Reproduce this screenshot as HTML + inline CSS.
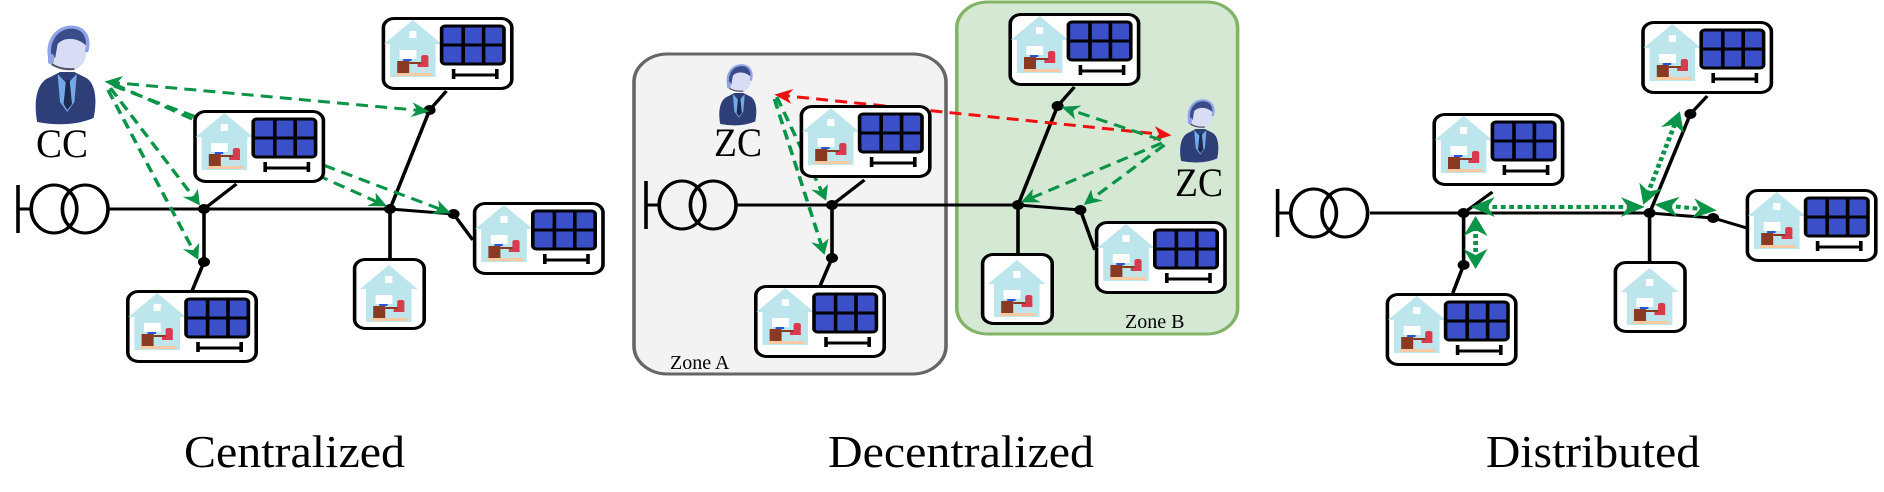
<!DOCTYPE html>
<html><head><meta charset="utf-8"><style>
html,body{margin:0;padding:0;background:#fff;}
svg{display:block;}
</style></head><body>
<svg width="1884" height="492" viewBox="0 0 1884 492" xmlns="http://www.w3.org/2000/svg">
<defs>
<marker id="ga" viewBox="0 0 10 10" refX="8" refY="5" markerWidth="5" markerHeight="5" orient="auto-start-reverse" markerUnits="strokeWidth"><path d="M0,0 L10,5 L0,10 L3,5 z" fill="#0a9447"/></marker>
<marker id="ra" viewBox="0 0 10 10" refX="8" refY="5" markerWidth="5" markerHeight="5" orient="auto-start-reverse" markerUnits="strokeWidth"><path d="M0,0 L10,5 L0,10 L3,5 z" fill="#f01010"/></marker>
<g id="house">
  <polygon points="0,25 24,1 48,25" fill="#bde5ec"/>
  <rect x="5" y="24" width="38" height="34" fill="#bde5ec"/>
  <rect x="21" y="12" width="6" height="7" fill="#fff"/>
  <rect x="10" y="54" width="30" height="3" fill="#f9c9a3"/>
  <rect x="13" y="31" width="14" height="9" fill="#fff"/>
  <rect x="16" y="40" width="7" height="2" fill="#2a54d8"/>
  <rect x="11" y="42" width="10" height="12" fill="#8a3a22"/>
  <rect x="21" y="43" width="13" height="2" fill="#8a3a22"/>
  <rect x="31" y="36" width="6" height="10" rx="2" fill="#d83a4e"/>
  <rect x="28" y="45" width="9" height="3" fill="#d83a4e"/>
  <rect x="32" y="48" width="2" height="5" fill="#ddd"/>
</g>
<g id="pvbox">
  <rect x="1.5" y="1.5" width="107" height="70" rx="9" fill="#fff" stroke="#000" stroke-width="3"/>
  <use href="#house" x="2" y="2"/>
  <rect x="50" y="9" width="52" height="38" rx="3" fill="#3a4fc8" stroke="#000" stroke-width="3"/>
  <line x1="51" y1="28" x2="101" y2="28" stroke="#000" stroke-width="3"/>
  <line x1="68" y1="10" x2="68" y2="46" stroke="#000" stroke-width="3"/>
  <line x1="85" y1="10" x2="85" y2="46" stroke="#000" stroke-width="3"/>
  <line x1="60" y1="52" x2="60" y2="62" stroke="#000" stroke-width="3"/>
  <line x1="96" y1="52" x2="96" y2="62" stroke="#000" stroke-width="3"/>
  <line x1="60" y1="58" x2="96" y2="58" stroke="#000" stroke-width="3"/>
</g>
<g id="hbox">
  <rect x="1.5" y="1.5" width="58" height="69" rx="9" fill="#fff" stroke="#000" stroke-width="3"/>
  <use href="#house" x="6" y="6"/>
</g>
<g id="person">
  <path d="M3,100 C0,80 2,60 14,55 L22,50 L34,50 L44,56 C52,62 53,80 50,96 Q30,106 3,100 z" fill="#2e3f78"/>
  <polygon points="20,52 28,62 36,52 34,80 28,90 22,80" fill="#74a9e8"/>
  <polygon points="27,58 30,58 32,82 28,88 25,82" fill="#1f2a50"/>
  <ellipse cx="29" cy="30" rx="15" ry="19" fill="#d9dcf5"/>
  <path d="M14,32 C11,12 22,4 32,5 C43,6 47,16 44,24 C38,16 26,14 20,22 L18,36 z" fill="#3a4c8a"/>
  <path d="M14,38 C10,18 20,5 32,5 C44,6 47,18 44,30" fill="none" stroke="#8ea3e8" stroke-width="3"/>
  <rect x="12" y="32" width="5" height="10" rx="2" fill="#8ea3e8"/>
  <path d="M15,42 Q22,48 34,47" fill="none" stroke="#556" stroke-width="2"/>
</g>
<g id="trafo">
  <line x1="0" y1="-24" x2="0" y2="24" stroke="#000" stroke-width="3"/>
  <line x1="0" y1="0" x2="11" y2="0" stroke="#000" stroke-width="3"/>
  <ellipse cx="30" cy="0" rx="19" ry="24" fill="none" stroke="#000" stroke-width="3"/>
  <ellipse cx="56" cy="0" rx="19" ry="24" fill="none" stroke="#000" stroke-width="3"/>
</g>
</defs>

<!-- ===== Panel 1: Centralized ===== -->
<g transform="scale(1.2,1)">
<g stroke="#000" stroke-width="3" fill="none">
  <line x1="90" y1="209" x2="325" y2="209"/>
  <line x1="170" y1="209" x2="197" y2="184"/>
  <line x1="170" y1="209" x2="170" y2="262"/>
  <line x1="170" y1="262" x2="160" y2="291"/>
  <line x1="325" y1="209" x2="358" y2="110"/>
  <line x1="358" y1="110" x2="372" y2="91"/>
  <line x1="325" y1="209" x2="325" y2="258"/>
  <line x1="325" y1="209" x2="378" y2="214"/>
  <line x1="378" y1="214" x2="394" y2="240"/>
</g>
<use href="#trafo" x="15" y="209"/>
<g fill="#000"><circle cx="170" cy="209" r="5"/><circle cx="170" cy="262" r="5"/><circle cx="325" cy="209" r="5"/><circle cx="358" cy="110" r="5"/><circle cx="378" cy="214" r="5"/></g>
<g stroke="#0a9447" stroke-width="3" stroke-dasharray="10,6" fill="none" marker-end="url(#ga)">
  <line x1="90" y1="82" x2="355" y2="111" marker-start="url(#ga)"/>
  <line x1="95" y1="84" x2="320" y2="205"/>
  <line x1="95" y1="86" x2="373" y2="212"/>
  <line x1="92" y1="88" x2="165" y2="203"/>
  <line x1="90" y1="90" x2="164" y2="257"/>
</g>
<use href="#pvbox" x="318" y="17"/>
<use href="#pvbox" x="161" y="110"/>
<use href="#pvbox" x="105" y="290"/>
<use href="#hbox" x="294" y="258"/>
<use href="#pvbox" x="394" y="202"/>
<use href="#person" x="28" y="22"/>
</g>
<text x="36" y="157" font-family="Liberation Serif, serif" font-size="40" textLength="52" lengthAdjust="spacingAndGlyphs">CC</text>
<text x="184" y="467" font-family="Liberation Serif, serif" font-size="46" textLength="221" lengthAdjust="spacingAndGlyphs">Centralized</text>

<!-- ===== Panel 2: Decentralized ===== -->
<g transform="translate(628,0) scale(1.2,1) translate(-628,0)">
<rect x="633" y="54" width="260" height="320" rx="28" fill="#f3f3f3" stroke="#666" stroke-width="3"/>
<rect x="902" y="2" width="234" height="332" rx="26" fill="#d5e8d4" stroke="#82b366" stroke-width="3"/>
<g stroke="#000" stroke-width="3" fill="none">
  <line x1="719" y1="205" x2="953" y2="205"/>
  <line x1="798" y1="205" x2="825" y2="180"/>
  <line x1="798" y1="205" x2="798" y2="258"/>
  <line x1="798" y1="258" x2="788" y2="286"/>
  <line x1="953" y1="205" x2="986" y2="106"/>
  <line x1="986" y1="106" x2="1000" y2="87"/>
  <line x1="953" y1="205" x2="953" y2="254"/>
  <line x1="953" y1="205" x2="1005" y2="210"/>
  <line x1="1005" y1="210" x2="1017" y2="250"/>
</g>
<use href="#trafo" x="643" y="205"/>
<g fill="#000"><circle cx="798" cy="205" r="5"/><circle cx="798" cy="258" r="5"/><circle cx="953" cy="205" r="5"/><circle cx="986" cy="106" r="5"/><circle cx="1005" cy="210" r="5"/></g>
<line x1="753" y1="95" x2="1078" y2="135" stroke="#f01010" stroke-width="3" stroke-dasharray="10,6" marker-start="url(#ra)" marker-end="url(#ra)"/>
<g stroke="#0a9447" stroke-width="3" stroke-dasharray="10,6" fill="none" marker-end="url(#ga)">
  <line x1="752" y1="97" x2="792" y2="198"/>
  <line x1="750" y1="99" x2="791" y2="252"/>
  <line x1="1072" y1="140" x2="992" y2="108"/>
  <line x1="1073" y1="143" x2="958" y2="201"/>
  <line x1="1075" y1="145" x2="1010" y2="203"/>
</g>
<use href="#pvbox" x="945" y="13"/>
<use href="#pvbox" x="771" y="105"/>
<use href="#pvbox" x="733" y="285"/>
<use href="#hbox" x="922" y="253"/>
<use href="#pvbox" x="1017" y="221"/>
<use href="#person" x="703" y="62" transform="translate(703,62) scale(0.62) translate(-703,-62)"/>
<use href="#person" x="1087" y="97" transform="translate(1087,97) scale(0.64) translate(-1087,-97)"/>
</g>
<text x="714" y="156" font-family="Liberation Serif, serif" font-size="40" textLength="48" lengthAdjust="spacingAndGlyphs">ZC</text>
<text x="1175" y="196" font-family="Liberation Serif, serif" font-size="40" textLength="48" lengthAdjust="spacingAndGlyphs">ZC</text>
<text x="670" y="369" font-family="Liberation Serif, serif" font-size="20">Zone A</text>
<text x="1125" y="328" font-family="Liberation Serif, serif" font-size="20">Zone B</text>
<text x="828" y="467" font-family="Liberation Serif, serif" font-size="46" textLength="266" lengthAdjust="spacingAndGlyphs">Decentralized</text>

<!-- ===== Panel 3: Distributed ===== -->
<g transform="translate(1256,0) scale(1.2,1) translate(-1256,0)">
<g stroke="#000" stroke-width="3" fill="none">
  <line x1="1351" y1="213" x2="1584" y2="213"/>
  <line x1="1429" y1="213" x2="1453" y2="192"/>
  <line x1="1429" y1="213" x2="1429" y2="265"/>
  <line x1="1429" y1="265" x2="1420" y2="293"/>
  <line x1="1584" y1="213" x2="1618" y2="114"/>
  <line x1="1618" y1="114" x2="1632" y2="96"/>
  <line x1="1584" y1="213" x2="1584" y2="262"/>
  <line x1="1584" y1="213" x2="1637" y2="218"/>
  <line x1="1637" y1="218" x2="1665" y2="228"/>
</g>
<use href="#trafo" x="1274" y="213"/>
<g fill="#000"><circle cx="1429" cy="213" r="5"/><circle cx="1429" cy="265" r="5"/><circle cx="1584" cy="213" r="5"/><circle cx="1618" cy="114" r="5"/><circle cx="1637" cy="218" r="5"/></g>
<g stroke="#0a9447" stroke-width="4" stroke-dasharray="4,3" fill="none" marker-start="url(#ga)" marker-end="url(#ga)">
  <line x1="1439" y1="207" x2="1576" y2="207"/>
  <line x1="1439" y1="220" x2="1439" y2="265"/>
  <line x1="1580" y1="201" x2="1608" y2="115"/>
  <line x1="1592" y1="205" x2="1636" y2="210"/>
</g>
<use href="#pvbox" x="1577" y="21"/>
<use href="#pvbox" x="1403" y="113"/>
<use href="#pvbox" x="1364" y="293"/>
<use href="#hbox" x="1554" y="261"/>
<use href="#pvbox" x="1664" y="189"/>
</g>
<text x="1486" y="467" font-family="Liberation Serif, serif" font-size="46" textLength="214" lengthAdjust="spacingAndGlyphs">Distributed</text>
</svg>
</body></html>
